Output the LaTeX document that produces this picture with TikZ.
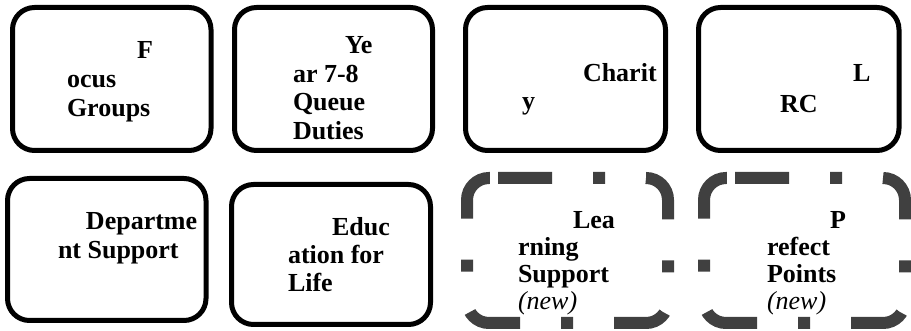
\documentclass[tikz,border=0pt]{standalone}
\usepackage{fontspec}
\setmainfont{Liberation Serif}
\usetikzlibrary{calc}
\definecolor{dashgray}{RGB}{64,64,64}
\tikzset{
  solidbox/.style={draw=black, line width=5pt, rounded corners=22pt, fill=white,
    inner sep=0pt, outer sep=0pt},
  plainbox/.style={draw=none, inner sep=0pt, outer sep=0pt},
  dashline/.style={draw=dashgray, line width=12pt, rounded corners=22pt,
    dash pattern=on 54pt off 41pt on 12pt off 41pt},
  lbl/.style={font=\fontsize{26pt}{#1}\selectfont\bfseries, align=left,
    anchor=base west, inner sep=0pt, outer sep=0pt, text=black},
}
\begin{document}
\begin{tikzpicture}[x=1pt,y=-1pt]
\useasboundingbox[fill=white] (0,0) rectangle (911,331);
% top row
\node[solidbox, minimum width=198.5pt, minimum height=143pt] (b1) at (111.75,79) {};
\node[solidbox, minimum width=198pt, minimum height=143pt] (b2) at (333.5,79) {};
\node[solidbox, minimum width=200pt, minimum height=143pt] (b3) at (565.5,79) {};
\node[solidbox, minimum width=200.5pt, minimum height=143pt] (b4) at (798.75,79) {};
% bottom row
\node[solidbox, minimum width=198.5pt, minimum height=142pt] (b5) at (106.75,249.5) {};
\node[solidbox, minimum width=199pt, minimum height=140pt] (b6) at (331,254.5) {};
\node[plainbox, minimum width=201pt, minimum height=145pt] (b7) at (567.5,250.5) {};
\node[plainbox, minimum width=201pt, minimum height=145pt] (b8) at (804.5,250.5) {};
\coordinate (s7) at ($(b7.north west)+(31,0)$);
\coordinate (s8) at ($(b8.north west)+(31,0)$);
\draw[dashline] (s7) -- (b7.north east) -- (b7.south east)
  -- (b7.south west) -- (b7.north west) -- (s7);
\draw[dashline] (s8) -- (b8.north east) -- (b8.south east)
  -- (b8.south west) -- (b8.north west) -- (s8);
% labels (anchored at the baseline of the last line)
\node[lbl=29pt] (t1) at (67,117) {\hspace*{70pt}F\\ocus\\Groups};
\node[lbl=28.6pt] (t2) at (293,139.3) {\hspace*{52pt}Ye\\ar 7-8\\Queue\\Duties};
\node[lbl=28pt] (t3) at (522,110) {\hspace*{61pt}Charit\\y};
\node[lbl=31pt] (t4) at (780,113) {\hspace*{73pt}L\\RC};
\node[lbl=29pt] (t5) at (58,259) {\hspace*{28pt}Departme\\nt Support};
\node[lbl=28.5pt] (t6) at (288,292) {\hspace*{44pt}Educ\\ation for\\Life};
\node[lbl=27.3pt] (t7) at (518,310) {\hspace*{55pt}Lea\\rning\\Support\\{\mdseries\itshape (new)}};
\node[lbl=27.3pt] (t8) at (767,310) {\hspace*{63pt}P\\refect\\Points\\{\mdseries\itshape (new)}};
\end{tikzpicture}
\end{document}
